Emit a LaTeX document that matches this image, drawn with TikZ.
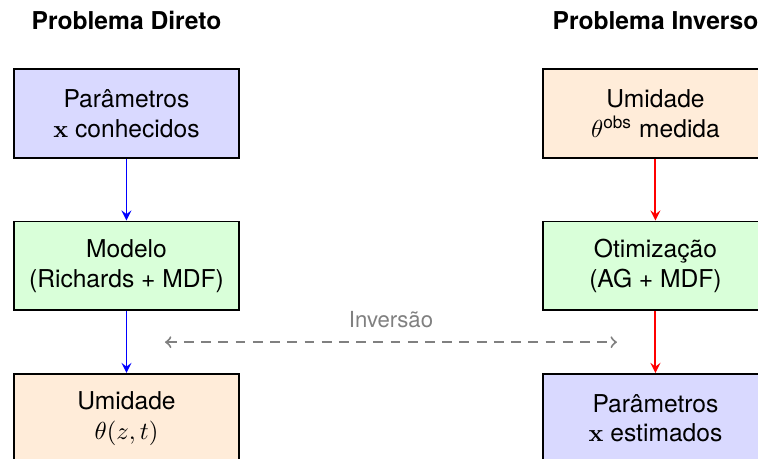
\documentclass[tikz,border=0pt]{standalone}
\usepackage{amsmath,amssymb}
\usepackage[no-math]{fontspec}
\setmainfont{TeX Gyre Heros}
\usepackage{tikz}
\usetikzlibrary{positioning,calc,arrows}

\tikzset{
  caixa/.style={draw,thick,minimum width=3.21cm,minimum height=1.27cm,align=center},
  titulo/.style={font=\bfseries}
}

\begin{document}
\begin{tikzpicture}[>=stealth,thick,node distance=0.88cm]
\useasboundingbox (0,0) rectangle (10.829,-6.557);
\clip (0,0) rectangle (10.829,-6.557);
% direct problem, left column
\node[titulo] (dirTitulo) at (1.807,-0.29) {Problema Direto};
\node[caixa,fill=blue!15] (param) at (1.807,-1.621) {Parâmetros\\$\mathbf{x}$ conhecidos};
\node[caixa,fill=green!15,below=of param] (modelo) {Modelo\\(Richards + MDF)};
\node[caixa,fill=orange!15,below=of modelo] (umid) {Umidade\\$\theta(z,t)$};
\draw[->,blue] (param) -- (modelo);
\draw[->,blue] (modelo) -- (umid);
% inverse problem, right column
\node[titulo] (invTitulo) at (9.364,-0.29) {Problema Inverso};
\node[caixa,fill=orange!15] (obs) at (9.364,-1.621) {Umidade\\$\theta^{\text{obs}}$ medida};
\node[caixa,fill=green!15,below=of obs] (otim) {Otimização\\(AG + MDF)};
\node[caixa,fill=blue!15,below=of otim] (estim) {Parâmetros\\$\mathbf{x}$ estimados};
\draw[->,red] (obs) -- (otim);
\draw[->,red] (otim) -- (estim);
% link between the two problems
\coordinate (invE) at ($(modelo.south)!0.5!(umid.north)+(0.55,0)$);
\coordinate (invD) at ($(otim.south)!0.5!(estim.north)-(0.55,0)$);
\draw[to-to,gray,dash pattern=on 4pt off 3pt] (invE) -- (invD)
  node[midway,above,yshift=2pt,font=\small] {Inversão};
\end{tikzpicture}
\end{document}
